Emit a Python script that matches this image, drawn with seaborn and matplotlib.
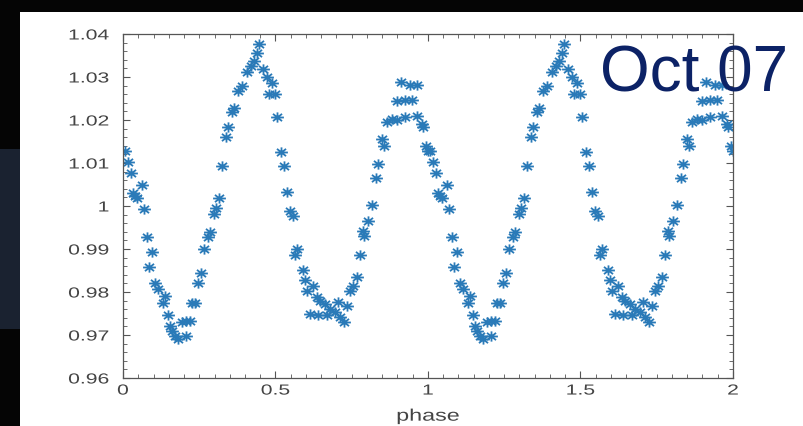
import numpy as np
import pandas as pd
import matplotlib
matplotlib.use("Agg")
import matplotlib.pyplot as plt
from matplotlib.ticker import MultipleLocator, FuncFormatter
from matplotlib.patches import Rectangle
from matplotlib.path import Path
from matplotlib.markers import MarkerStyle
from matplotlib.transforms import Affine2D
from matplotlib.patheffects import AbstractPathEffect
import seaborn as sns

# phased light curve, one cycle (plotted twice: phase and phase+1)
phase = [0.007, 0.015, 0.026, 0.033, 0.039, 0.045, 0.061, 0.070, 0.078, 0.086,
         0.096, 0.105, 0.116, 0.130, 0.138, 0.146, 0.154, 0.162, 0.170, 0.179,
         0.192, 0.205, 0.208, 0.220, 0.225, 0.236, 0.247, 0.256, 0.267, 0.278,
         0.285, 0.300, 0.304, 0.316, 0.326, 0.338, 0.345, 0.358, 0.365, 0.378,
         0.389, 0.405, 0.420, 0.431, 0.438, 0.446, 0.460, 0.471, 0.479, 0.487,
         0.498, 0.506, 0.518, 0.528, 0.539, 0.548, 0.556, 0.564, 0.571, 0.589,
         0.597, 0.604, 0.613, 0.624, 0.635, 0.640, 0.646, 0.662, 0.668, 0.679,
         0.695, 0.706, 0.711, 0.725, 0.733, 0.744, 0.753, 0.768, 0.777, 0.786,
         0.791, 0.804, 0.815, 0.830, 0.837, 0.848, 0.856, 0.864, 0.881, 0.897,
         0.897, 0.913, 0.925, 0.925, 0.941, 0.946, 0.963, 0.963, 0.979, 0.982,
         0.995, 0.999]
flux = [1.0129, 1.0102, 1.0077, 1.0030, 1.0024, 1.0018, 1.0049, 0.9993, 0.9927, 0.9857,
        0.9892, 0.9820, 0.9808, 0.9774, 0.9790, 0.9747, 0.9722, 0.9710, 0.9698, 0.9691,
        0.9730, 0.9698, 0.9733, 0.9733, 0.9774, 0.9774, 0.9820, 0.9844, 0.9900, 0.9927,
        0.9939, 0.9981, 0.9995, 1.0018, 1.0094, 1.0160, 1.0184, 1.0219, 1.0229, 1.0268,
        1.0278, 1.0312, 1.0325, 1.0338, 1.0356, 1.0377, 1.0319, 1.0301, 1.0260, 1.0286,
        1.0260, 1.0208, 1.0126, 1.0094, 1.0033, 0.9989, 0.9977, 0.9887, 0.9900, 0.9851,
        0.9829, 0.9803, 0.9749, 0.9815, 0.9788, 0.9747, 0.9780, 0.9772, 0.9747, 0.9760,
        0.9753, 0.9776, 0.9741, 0.9730, 0.9768, 0.9803, 0.9813, 0.9836, 0.9886, 0.9943,
        0.9931, 0.9966, 1.0003, 1.0064, 1.0098, 1.0156, 1.0140, 1.0195, 1.0202, 1.0200,
        1.0245, 1.0288, 1.0206, 1.0247, 1.0281, 1.0247, 1.0210, 1.0281, 1.0191, 1.0183,
        1.0140, 1.0129]
cycles = [0, 1]
x_ticks = [0, 0.5, 1, 1.5, 2]
y_ticks = [0.96, 0.97, 0.98, 0.99, 1.00, 1.01, 1.02, 1.03, 1.04]
title_text = "Oct 07"
x_label = "phase"

df = pd.concat([pd.DataFrame({"phase": np.array(phase) + c, "flux": flux}) for c in cycles],
               ignore_index=True)


class HStretch(AbstractPathEffect):
    """Render text horizontally stretched (the source image is widened)."""
    def __init__(self, sx, anchor="center"):
        super().__init__()
        self.sx = sx
        self.anchor = anchor

    def draw_path(self, renderer, gc, tpath, affine, rgbFace=None):
        ext = tpath.get_extents()
        if self.anchor == "right":
            c = ext.x1
        elif self.anchor == "left":
            c = ext.x0
        else:
            c = 0.5 * (ext.x0 + ext.x1)
        t = Affine2D().translate(-c, 0).scale(self.sx, 1).translate(c, 0) + affine
        renderer.draw_path(gc, tpath, t, rgbFace)


# widened asterisk marker (8 arms)
ang = np.deg2rad([0, 45, 90, 135])
verts, codes = [], []
for a in ang:
    dx, dy = 0.5 * np.cos(a), 0.4 * np.sin(a)
    verts += [(-dx, -dy), (dx, dy)]
    codes += [Path.MOVETO, Path.LINETO]
ast_marker = MarkerStyle(Path(verts, codes))

sns.set_style("white")
plt.rcParams["font.family"] = ["Liberation Sans", "DejaVu Sans"]

fig = plt.figure(figsize=(8.04, 4.27), dpi=100)
fig.patch.set_facecolor("#050505")

# background layer: dark slide with white panel
bg = fig.add_axes([0, 0, 1, 1], zorder=-10)
bg.set_xlim(0, 804)
bg.set_ylim(427, 0)
bg.axis("off")
bg.add_patch(Rectangle((0, 0), 804, 427, facecolor="#050505", edgecolor="none"))
bg.add_patch(Rectangle((0, 150), 20, 180, facecolor="#1a2230", edgecolor="none"))
bg.add_patch(Rectangle((20, 13), 784, 414, facecolor="white", edgecolor="none"))

ax = fig.add_axes([123 / 804, 48 / 427, 610 / 804, 344 / 427], zorder=1)
ax.set_facecolor("white")

mcol = "#2a7ab8"
sns.scatterplot(data=df, x="phase", y="flux", ax=ax, marker=ast_marker,
                color=mcol, edgecolor=mcol, s=85, linewidth=1.3, legend=False)

ax.set_xlim(0, 2)
ax.set_ylim(0.96, 1.04)
ax.set_xticks(x_ticks)
ax.set_yticks(y_ticks)
fmt = FuncFormatter(lambda v, p: ("%g" % round(v, 4)))
ax.xaxis.set_major_formatter(fmt)
ax.yaxis.set_major_formatter(fmt)
ax.xaxis.set_minor_locator(MultipleLocator(0.05))
ax.yaxis.set_minor_locator(MultipleLocator(0.002))
ax.tick_params(which="both", direction="in", top=True, right=True,
               bottom=True, left=True, color="#555555")
ax.tick_params(which="major", length=5, width=0.8, labelsize=10.5,
               labelcolor="#444444")
ax.tick_params(which="minor", length=3, width=0.6)
ax.tick_params(axis="y", pad=10)
ax.tick_params(axis="x", pad=4)
for sp in ax.spines.values():
    sp.set_color("#555555")
    sp.set_linewidth(0.9)
ax.set_xlabel(x_label, fontsize=12, color="#444444", labelpad=8)
ax.set_ylabel("")

for lbl in ax.get_xticklabels():
    lbl.set_path_effects([HStretch(1.45, "center")])
for lbl in ax.get_yticklabels():
    lbl.set_path_effects([HStretch(1.45, "right")])
ax.xaxis.label.set_path_effects([HStretch(1.4, "center")])

fig.text(600 / 804, 1 - 91 / 427, title_text, fontsize=46, color="#0c2266",
         ha="left", va="baseline", zorder=10)

fig.savefig("out.png", dpi=100, facecolor=fig.get_facecolor())
